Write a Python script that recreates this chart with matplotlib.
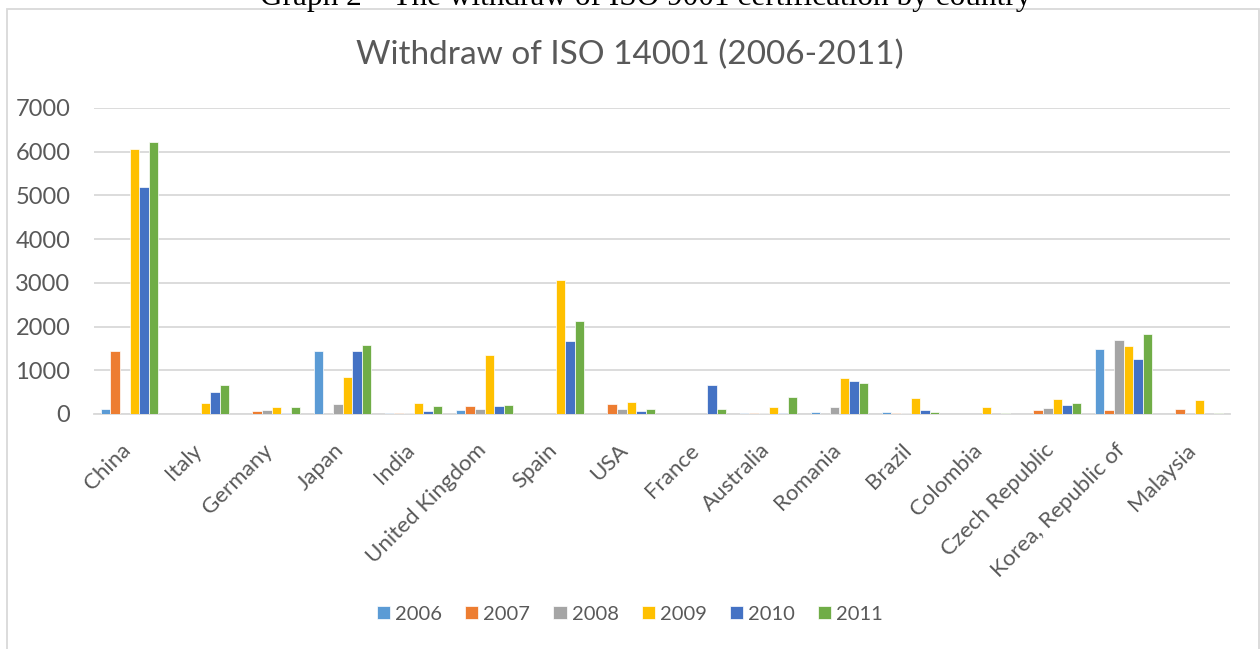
import matplotlib.pyplot as plt
import numpy as np
from matplotlib.patches import Rectangle
from matplotlib.transforms import ScaledTranslation

plt.rcParams["font.family"] = ["Lato", "DejaVu Sans"]

countries = ["China", "Italy", "Germany", "Japan", "India", "United Kingdom",
             "Spain", "USA", "France", "Australia", "Romania", "Brazil",
             "Colombia", "Czech Republic", "Korea, Republic of", "Malaysia"]
years = ["2006", "2007", "2008", "2009", "2010", "2011"]

y2006 = [120, 0, 0, 1450, 15, 86, 0, 0, 0, 30, 50, 42, 0, 0, 1485, 0]
y2007 = [1440, 0, 76, 0, 30, 180, 0, 230, 0, 30, 0, 25, 0, 92, 92, 108]
y2008 = [0, 0, 99, 236, 25, 110, 0, 110, 0, 30, 165, 30, 0, 146, 1685, 0]
y2009 = [6060, 260, 167, 852, 258, 1350, 3070, 280, 0, 168, 817, 368, 162, 346, 1554, 331]
y2010 = [5190, 500, 30, 1440, 70, 188, 1660, 58, 656, 30, 745, 85, 0, 208, 1254, 0]
y2011 = [6230, 670, 167, 1575, 172, 210, 2135, 125, 107, 397, 720, 46, 30, 246, 1823, 30]
series = [y2006, y2007, y2008, y2009, y2010, y2011]
colors = ["#5b9bd5", "#ed7d31", "#a5a5a5", "#ffc000", "#4472c4", "#70ad47"]

text_color = "#595959"
grid_color = "#d9d9d9"

fig = plt.figure(figsize=(12.6, 6.49), dpi=100)
ax = fig.add_axes([94 / 1260, 1 - 414 / 649, 1136 / 1260, 306 / 649])

x = np.arange(len(countries))
w = 0.135
for i, (vals, c) in enumerate(zip(series, colors)):
    ax.bar(x + (i - 2.5) * w, vals, width=w, color=c, edgecolor="white",
           linewidth=0.5, label=years[i], zorder=3)

ax.set_xlim(-0.5, len(countries) - 0.5)
ax.set_ylim(0, 7000)
ax.set_yticks(range(0, 7001, 1000))
ax.yaxis.grid(True, color=grid_color, linewidth=1.3, zorder=0)
for s in ["top", "right", "left"]:
    ax.spines[s].set_visible(False)
ax.spines["bottom"].set_color(grid_color)
ax.spines["bottom"].set_linewidth(1.3)
ax.tick_params(axis="y", length=0, labelsize=17, labelcolor=text_color, pad=17)
ax.set_xticks(x)
ax.set_xticklabels(countries, rotation=45, ha="right", va="top",
                   rotation_mode="anchor")
ax.tick_params(axis="x", length=0, labelsize=16, labelcolor=text_color, pad=13)
# nudge the slanted country names a little left and down
shift = ScaledTranslation(-0.09, -0.08, fig.dpi_scale_trans)
for lbl in ax.get_xticklabels():
    lbl.set_transform(lbl.get_transform() + shift)

fig.text(0.5, 1 - 55 / 649, "Withdraw of ISO 14001 (2006-2011)", ha="center",
         va="center", fontsize=24, color=text_color)

fig.legend(loc="center", bbox_to_anchor=(0.5, 1 - 614 / 649), ncol=6,
           frameon=False, fontsize=14.5, handlelength=0.65, handleheight=0.65,
           handletextpad=0.25, columnspacing=1.15, labelcolor=text_color)

# chart frame and caption above it
fig.patches.append(Rectangle((7 / 1260, -0.01), 1252 / 1260, 1 - 9 / 649 + 0.01,
                             transform=fig.transFigure, fill=False,
                             edgecolor=grid_color, linewidth=1.3))
fig.text(646 / 1260, 1 - 5 / 649, "Graph 2 \u2013 The withdraw of ISO 9001 certification by country",
         ha="center", va="baseline", fontsize=22.5, family="Liberation Serif")

fig.savefig("out.png", dpi=100)
